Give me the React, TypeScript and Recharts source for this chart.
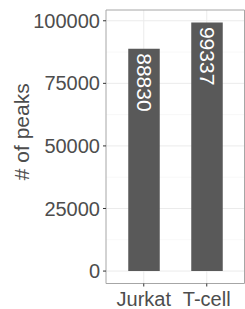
import React from 'react';
import { BarChart, Bar, XAxis, YAxis, CartesianGrid, LabelList } from 'recharts';

const categories = ['Jurkat', 'T-cell'];
const peaks = [88830, 99337];
const yTicks = [0, 25000, 50000, 75000, 100000];
const yMinorTicks = [12500, 37500, 62500, 87500];

const data = categories.map((name, i) => ({ name, peaks: peaks[i] }));

// ggplot-style 5% expansion on the continuous axis
const yMax = Math.max(...peaks);
const yPad = yMax * 0.05;

const font = '"Liberation Sans", Arial, sans-serif';
const textGrey = '#4d4d4d';
const borderGrey = '#a6a6a6';

const BarValue = (props: any) => {
  const { x, y, width, value } = props;
  const cx = x + width / 2;
  const ty = y + 4.5;
  return (
    <text
      x={cx}
      y={ty}
      transform={`rotate(90, ${cx}, ${ty})`}
      textAnchor="start"
      dominantBaseline="central"
      fill="#ffffff"
      fontSize={21}
      fontFamily={font}
    >
      {value}
    </text>
  );
};

const YTitle = (props: any) => {
  const { viewBox } = props;
  const tx = 29;
  const ty = viewBox.y + viewBox.height / 2 - 15;
  return (
    <text
      x={tx}
      y={ty}
      transform={`rotate(-90, ${tx}, ${ty})`}
      textAnchor="middle"
      fill={textGrey}
      fontSize={21}
      fontFamily={font}
    >
      # of peaks
    </text>
  );
};

// panel border: lines on the edges of the plot area
const frameX = ({ offset }: any) => [offset.left, offset.left + offset.width];
const frameY = ({ offset }: any) => [offset.top, offset.top + offset.height];

export default function App() {
  return (
    <div style={{ position: 'absolute', left: 0, top: 0, width: 245, height: 309, background: '#fff' }}>
      <BarChart
        width={245}
        height={309}
        data={data}
        margin={{ top: 10, right: 0.5, bottom: 0, left: 0 }}
        barCategoryGap={0}
      >
        <CartesianGrid horizontalValues={yMinorTicks} vertical={false} stroke="#f3f3f3" strokeWidth={0.6} />
        <CartesianGrid horizontalValues={yTicks} verticalValues={categories} stroke="#ebebeb" strokeWidth={1} />
        <CartesianGrid
          verticalCoordinatesGenerator={frameX}
          horizontalCoordinatesGenerator={frameY}
          stroke={borderGrey}
          strokeWidth={1}
        />
        <XAxis
          dataKey="name"
          height={25.5}
          padding={{ left: 6.25, right: 6.25 }}
          axisLine={false}
          tickLine={{ stroke: '#333333' }}
          tickSize={3}
          tickMargin={5}
          tick={{ fill: textGrey, fontSize: 20, fontFamily: font }}
          interval={0}
        />
        <YAxis
          width={106}
          domain={[-yPad, yMax + yPad]}
          ticks={yTicks}
          allowDataOverflow
          axisLine={false}
          tickLine={{ stroke: '#333333' }}
          tickSize={3}
          tickMargin={3}
          tick={{ fill: textGrey, fontSize: 20, fontFamily: font }}
          label={{ content: YTitle }}
        />
        <Bar dataKey="peaks" fill="#595959" barSize={31.5} isAnimationActive={false}>
          <LabelList dataKey="peaks" content={BarValue} />
        </Bar>
      </BarChart>
    </div>
  );
}
